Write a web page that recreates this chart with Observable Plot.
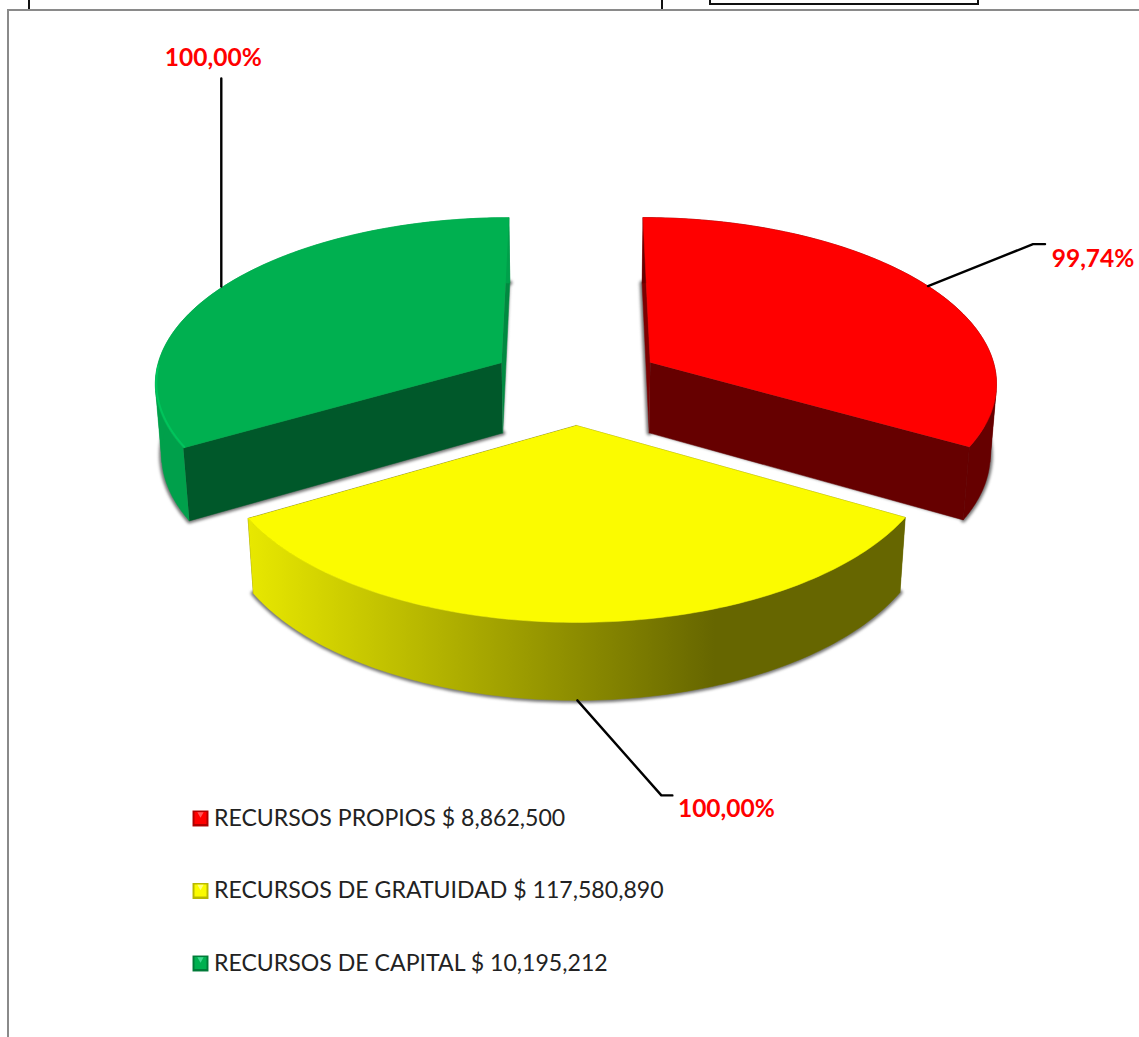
<!DOCTYPE html>
<html lang="es">
<head>
<meta charset="utf-8">
<title>Recursos</title>
<script src="https://cdn.jsdelivr.net/npm/d3@7"></script>
<script src="https://cdn.jsdelivr.net/npm/@observablehq/plot@0.6"></script>
<style>
  html, body { margin: 0; padding: 0; background: #fff; overflow: hidden; }
  #hoja { position: relative; width: 1139px; height: 1037px; overflow: hidden; }
  #hoja svg { display: block; position: absolute; left: 0; top: 0; background: transparent; }
  .m { position: absolute; }
  .gris { background: #8a8a8a; }
  .negro { background: #111; }
</style>
</head>
<body>
<div id="hoja">
  <div class="m negro" style="left:28px;top:0;width:2px;height:9px"></div>
  <div class="m negro" style="left:661px;top:0;width:2px;height:9px"></div>
  <div class="m negro" style="left:709px;top:0;width:2px;height:5px"></div>
  <div class="m negro" style="left:977px;top:0;width:2px;height:5px"></div>
  <div class="m negro" style="left:709px;top:3px;width:270px;height:2px"></div>
  <div class="m gris" style="left:7px;top:8.5px;width:1132px;height:2.5px"></div>
  <div class="m gris" style="left:7px;top:8.5px;width:2px;height:1029px"></div>
</div>
<script>
// Datos
const categorias = ["RECURSOS PROPIOS", "RECURSOS DE GRATUIDAD", "RECURSOS DE CAPITAL"];
const montos = ["$ 8,862,500", "$ 117,580,890", "$ 10,195,212"];
const ejecucion = [99.74, 100, 100];
const etiquetas = ["99,74%", "100,00%", "100,00%"];

// Colores
const colorCara = ["#ff0000", "#fbfb00", "#00b050"];
const colorBorde = ["#660000", "url(#bordeAmarillo)", "#00a04b"];
const colorCorteInicio = ["#7c0000", "#666600", "#00582a"];
const colorCorteFin = ["#660000", "#666600", "#008a40"];
const colorClaro = ["#ff5a5a", "#ffff80", "#40d890"];
const colorOscuro = ["#b00000", "#b8b800", "#007a38"];

// Cámara de la proyección del pastel
const cam = {cx: 575.5, cy: 382.5, k: 348, m: 165.2, p: 0.11, q: 0.015, h: 72, e: 0.25};
const proyectar = (u, w, z) => {
  const d = 1 - cam.p * w + cam.q * z;
  return [cam.cx + cam.k * u / d, cam.cy + (cam.m * w + cam.h * z) / d];
};

// Ángulos de cada porción (en el sentido del reloj desde atrás)
const total = d3.sum(ejecucion);
let acum = 0;
const porciones = ejecucion.map((v, i) => {
  const a0 = acum / total * 2 * Math.PI;
  acum += v;
  const a1 = acum / total * 2 * Math.PI;
  return {i, a0, a1, mid: (a0 + a1) / 2};
});
const enAro = (s, t, z, r = 1) => proyectar(
  cam.e * Math.sin(s.mid) + r * Math.sin(t),
  -cam.e * Math.cos(s.mid) - r * Math.cos(t), z);
const arco = (s, z, desde = s.a0, hasta = s.a1) =>
  d3.range(0, 121).map(n => enAro(s, desde + (hasta - desde) * n / 120, z));
const vertice = (s, z) => enAro(s, 0, z, 0);

// El borde se parte en la silueta para que no se cancele el relleno
const tramos = s => {
  const cortes = [100, 260].map(g => g * Math.PI / 180).filter(c => c > s.a0 && c < s.a1);
  return d3.pairs([s.a0, ...cortes, s.a1]);
};

const caras = [], sombras = [];
const cara = (lista, id, color, pts) => pts.forEach(([x, y]) => lista.push({id, color, x, y}));
porciones.forEach(s => {
  const i = s.i;
  cara(sombras, "s" + i, "#777777", [vertice(s, 1), ...arco(s, 1)]);
  cara(caras, "ci" + i, colorCorteInicio[i], [vertice(s, 0), enAro(s, s.a0, 0), enAro(s, s.a0, 1), vertice(s, 1)]);
  cara(caras, "cf" + i, colorCorteFin[i], [vertice(s, 0), enAro(s, s.a1, 0), enAro(s, s.a1, 1), vertice(s, 1)]);
  tramos(s).forEach(([d, h], n) =>
    cara(caras, `b${i}-${n}`, colorBorde[i], [...arco(s, 0, d, h), ...arco(s, 1, d, h).reverse()]));
  cara(caras, "t" + i, colorCara[i], [vertice(s, 0), ...arco(s, 0)]);
});
// Brillo del bisel de la porción verde
const brillo = arco(porciones[2], 0, porciones[2].a0, porciones[2].a0 + 0.5)
  .map(([x, y]) => ({x: x + 1, y: y - 1}));

// Guías: desplazamientos desde el punto medio del aro de cada porción
const guias = [
  {codo: [105, -42], fin: [117, -42], etq: [165, -27]},
  {codo: [84, 95], fin: [95, 95], etq: [149, 109]},
  {codo: [-2, -208], fin: [-2, -208], etq: [-10, -228]}
];
const lineas = [], textos = [];
porciones.forEach((s, i) => {
  const [x0, y0] = enAro(s, s.mid, 0);
  const arranque = i === 1 ? enAro(s, s.mid, 1) : [x0, y0];
  const [xa, ya] = arranque;
  const g = guias[i];
  const yBase = i === 1 ? ya : y0;
  [[xa + (i === 2 ? -2 : 0), ya], [x0 + g.codo[0], yBase + g.codo[1]], [x0 + g.fin[0], yBase + g.fin[1]]]
    .forEach(([x, y]) => lineas.push({id: i, x, y}));
  textos.push({t: etiquetas[i], x: x0 + g.etq[0], y: yBase + g.etq[1]});
});

// Leyenda
const leyenda = categorias.map((c, i) => ({
  t: `${c} ${montos[i]}`, i, x: 200, y: 818 + i * 72.5
}));

const grafico = Plot.plot({
  width: 1139, height: 1037,
  margin: 0,
  x: {type: "identity", axis: null},
  y: {type: "identity", axis: null},
  color: {type: "identity"},
  marks: [
    () => {
      const ns = "http://www.w3.org/2000/svg";
      const defs = document.createElementNS(ns, "defs");
      const lg = document.createElementNS(ns, "linearGradient");
      lg.setAttribute("id", "bordeAmarillo");
      [[0, "#e8e800"], [0.71, "#666600"], [1, "#666600"]].forEach(([o, c]) => {
        const st = document.createElementNS(ns, "stop");
        st.setAttribute("offset", o);
        st.setAttribute("stop-color", c);
        lg.appendChild(st);
      });
      defs.appendChild(lg);
      return defs;
    },
    Plot.line(sombras, {x: "x", y: "y", z: "id", fill: "color", stroke: "color", strokeWidth: 5}),
    Plot.line(caras, {x: "x", y: "y", z: "id", fill: "color", stroke: "color", strokeWidth: 0.5}),
    Plot.line(brillo, {x: "x", y: "y", stroke: "#00c45c", strokeWidth: 2}),
    Plot.line(lineas, {x: "x", y: "y", z: "id", stroke: "#000", strokeWidth: 2.4, strokeLinejoin: "round"}),
    Plot.text(textos, {x: "x", y: "y", text: "t", fill: "#ff0000", fontFamily: "Lato", fontWeight: 700, fontSize: 24.5, textAnchor: "middle", lineAnchor: "middle"}),
    Plot.dot(leyenda, {x: "x", y: "y", symbol: "square", r: 9, fill: d => colorOscuro[d.i]}),
    Plot.dot(leyenda, {x: "x", y: d => d.y - 0.5, symbol: "square", r: 6.8, fill: d => colorCara[d.i]}),
    Plot.dot(leyenda, {x: "x", y: d => d.y - 4.5, symbol: "triangle2", r: 3, rotate: 180, fill: d => colorClaro[d.i]}),
    Plot.text(leyenda, {x: 213.5, y: "y", text: "t", fill: "#222", fontFamily: "Lato", fontSize: 23.1, textAnchor: "start", lineAnchor: "middle"})
  ]
});
const capaSombra = grafico.querySelector('g[aria-label="line"]');
if (capaSombra) capaSombra.style.filter = "blur(1.6px)";
document.getElementById("hoja").prepend(grafico);
</script>
</body>
</html>
